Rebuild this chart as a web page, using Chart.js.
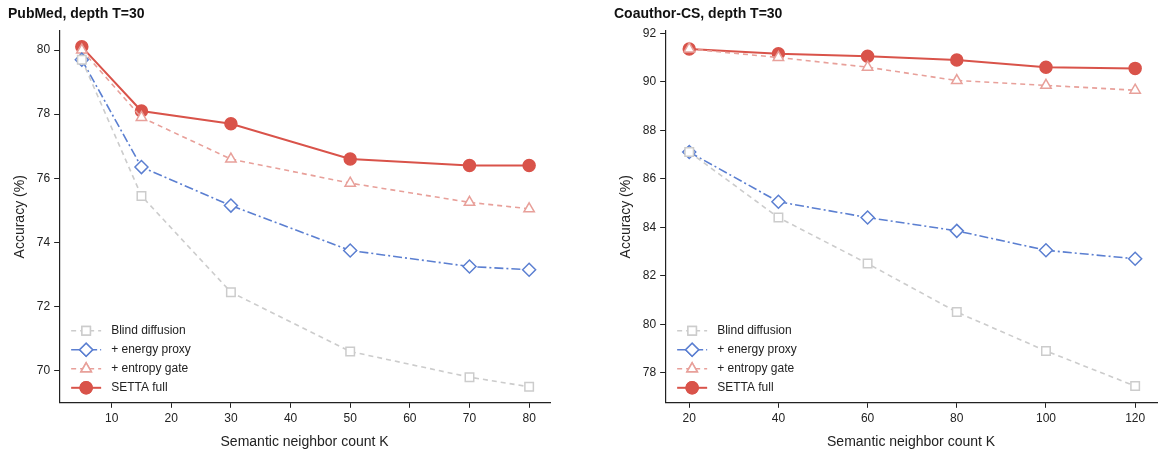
<!DOCTYPE html>
<html><head><meta charset="utf-8">
<script src="https://cdn.jsdelivr.net/npm/chart.js@4"></script>
<style>
body{margin:0;background:#fff;font-family:"Liberation Sans",Arial,sans-serif}
.wrap{display:flex;width:1168px;height:459px}
.box{position:relative;width:584px;height:459px}
</style></head><body>
<div class="wrap"><div class="box"><canvas id="c1"></canvas></div><div class="box"><canvas id="c2"></canvas></div></div>
<script>
const pubK = [5, 15, 30, 50, 70, 80];
const pubBlind = [79.7, 75.45, 72.45, 70.6, 69.8, 69.5];
const pubEnergy = [79.7, 76.35, 75.15, 73.75, 73.25, 73.15];
const pubEntropy = [80.0, 77.9, 76.6, 75.85, 75.25, 75.05];
const pubSetta = [80.1, 78.1, 77.7, 76.6, 76.4, 76.4];
const pubXTicks = [10, 20, 30, 40, 50, 60, 70, 80];

const csK = [20, 40, 60, 80, 100, 120];
const csBlind = [87.1, 84.4, 82.5, 80.5, 78.9, 77.45];
const csEnergy = [87.1, 85.05, 84.4, 83.85, 83.05, 82.7];
const csEntropy = [91.35, 91.0, 90.6, 90.05, 89.85, 89.65];
const csSetta = [91.35, 91.15, 91.05, 90.9, 90.6, 90.55];
const csXTicks = [20, 40, 60, 80, 100, 120];

const labels = ['Blind diffusion', '+ energy proxy', '+ entropy gate', 'SETTA full'];
const styles = [
  {color:'#cccccc', dash:[5,4], point:'rect', r:6, fill:false},
  {color:'#5b7fd1', dash:[9,3,2,3], point:'rectRot', r:6.5, fill:false},
  {color:'#e8a09a', dash:[5,4], point:'triangle', r:6, fill:false},
  {color:'#d9534a', dash:[], point:'circle', r:6, fill:true}
];

function makeSets(xs, series){
  return series.map((ys, i) => {
    const s = styles[i];
    return {
      label: labels[i],
      data: xs.map((x, j) => ({x, y: ys[j]})),
      borderColor: s.color, borderDash: s.dash, borderWidth: i === 3 ? 2 : 1.6,
      pointStyle: s.point, pointRadius: s.r, pointBorderWidth: 1.5,
      pointBorderColor: s.color, pointBackgroundColor: s.fill ? s.color : '#fff',
      tension: 0
    };
  });
}

// legend drawn in the lower-left corner of the plot, line + marker
const legendPlugin = {
  id: 'lineLegend',
  afterDraw(chart){
    const {ctx, chartArea} = chart;
    const x0 = chartArea.left + 12, y0 = chartArea.bottom - 72;
    ctx.save();
    chart.data.datasets.forEach((ds, i) => {
      const y = y0 + i * 19;
      ctx.strokeStyle = ds.borderColor; ctx.lineWidth = ds.borderWidth;
      ctx.setLineDash(ds.borderDash);
      ctx.beginPath(); ctx.moveTo(x0, y); ctx.lineTo(x0 + 30, y); ctx.stroke();
      ctx.setLineDash([]);
      ctx.fillStyle = ds.pointBackgroundColor; ctx.lineWidth = 1.5;
      Chart.helpers.drawPoint(ctx, {pointStyle: ds.pointStyle, radius: ds.pointRadius, borderWidth: 1.5}, x0 + 15, y);
      ctx.fill(); ctx.stroke();
      ctx.fillStyle = '#222'; ctx.font = '12px "Liberation Sans", Arial';
      ctx.textBaseline = 'middle';
      ctx.fillText(ds.label, x0 + 40, y);
    });
    ctx.restore();
  }
};

function build(id, title, xs, series, xr, yr, yStep, xTicks, pad){
  new Chart(document.getElementById(id), {
    type: 'line',
    data: {datasets: makeSets(xs, series)},
    options: {
      responsive: true, maintainAspectRatio: false, animation: false,
      layout: {padding: pad},
      plugins: {
        legend: {display: false}, tooltip: {enabled: false},
        title: {display: true, text: title, align: 'start', color: '#111',
          font: {size: 14, weight: 'bold', family: '"Liberation Sans", Arial'}, padding: {top: 2, bottom: 8}}
      },
      scales: {
        x: {type: 'linear', min: xr[0], max: xr[1],
          grid: {display: true, drawOnChartArea: false, drawTicks: true, tickLength: 5, color: '#222'},
          border: {color: '#222', width: 1.2},
          afterBuildTicks: ax => { ax.ticks = xTicks.map(v => ({value: v})); },
          ticks: {color: '#222', font: {size: 12}, padding: 4},
          title: {display: true, text: 'Semantic neighbor count K', color: '#222', font: {size: 14}}},
        y: {min: yr[0], max: yr[1],
          grid: {display: true, drawOnChartArea: false, drawTicks: true, tickLength: 5, color: '#222'},
          border: {color: '#222', width: 1.2},
          afterBuildTicks: ax => { const t = []; for (let v = Math.ceil(yr[0] / yStep) * yStep; v <= yr[1]; v += yStep) t.push({value: v}); ax.ticks = t; },
          ticks: {color: '#222', font: {size: 12}, padding: 4},
          title: {display: true, text: 'Accuracy (%)', color: '#222', font: {size: 14}}}
      }
    },
    plugins: [legendPlugin]
  });
}

build('c1', 'PubMed, depth T=30', pubK, [pubBlind, pubEnergy, pubEntropy, pubSetta], [1.2, 83.5], [69.0, 80.6], 2, pubXTicks, {top: 4, right: 34, left: 8, bottom: 4});
build('c2', 'Coauthor-CS, depth T=30', csK, [csBlind, csEnergy, csEntropy, csSetta], [14.6, 124.9], [76.76, 92.1], 2, csXTicks, {top: 4, right: 11, left: 30, bottom: 4});
</script>
</body></html>
